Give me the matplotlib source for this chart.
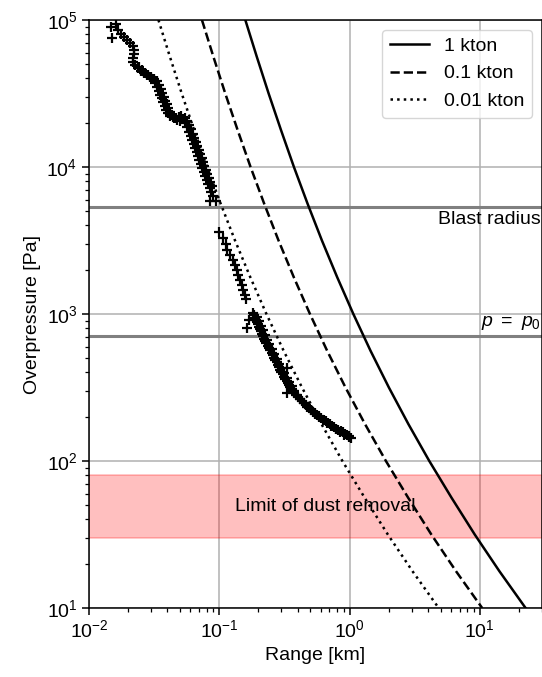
import numpy as np
import matplotlib
matplotlib.use("Agg")
import matplotlib.pyplot as plt

plt.rcParams['font.family'] = ['Liberation Sans', 'DejaVu Sans']
plt.rcParams['mathtext.fontset'] = 'custom'
plt.rcParams['mathtext.rm'] = 'Liberation Sans'
plt.rcParams['mathtext.it'] = 'Liberation Sans:italic'
plt.rcParams['mathtext.bf'] = 'Liberation Sans:bold'
plt.rcParams['font.size'] = 14

# ---------------- data ----------------
curve_pressure_pa = [1e5, 5.62e4, 3.16e4, 1.78e4, 1e4, 5.62e3, 3.16e3, 1.78e3,
                     1e3, 562, 316, 178, 100, 56.2, 31.6, 17.8, 10]
range_1kton_km = [0.1585, 0.1941, 0.2393, 0.2979, 0.3741, 0.4764, 0.6138, 0.8035,
                  1.0691, 1.4488, 2.0045, 2.8314, 4.0926, 6.0674, 9.141, 14.125, 22.44]
range_01kton_km = [0.07362, 0.09016, 0.1112, 0.1384, 0.1738, 0.2213, 0.2851, 0.3732,
                   0.4966, 0.6730, 0.9311, 1.3152, 1.9010, 2.8183, 4.246, 6.561, 10.42]
range_001kton_km = [0.03412, 0.04179, 0.05152, 0.06413, 0.08054, 0.10256, 0.13214, 0.17298,
                    0.23016, 0.31190, 0.43154, 0.60955, 0.88107, 1.3062, 1.9679, 3.0409, 4.831]
curve_labels = ['1 kton', '0.1 kton', '0.01 kton']

# observed overpressure (log10 range [km], log10 pressure [Pa])
obs_seg1 = [(-1.831, 4.952), (-1.792, 4.973), (-1.823, 4.878), (-1.777, 4.932), (-1.754, 4.905),
            (-1.731, 4.884), (-1.708, 4.864), (-1.685, 4.844), (-1.662, 4.823), (-1.654, 4.796),
            (-1.654, 4.769), (-1.662, 4.741), (-1.662, 4.714), (-1.646, 4.694), (-1.623, 4.673),
            (-1.600, 4.653), (-1.577, 4.639), (-1.554, 4.626), (-1.531, 4.612), (-1.508, 4.599),
            (-1.492, 4.571), (-1.477, 4.544), (-1.465, 4.517), (-1.454, 4.490), (-1.442, 4.466),
            (-1.431, 4.442), (-1.419, 4.415), (-1.408, 4.388), (-1.392, 4.367), (-1.377, 4.350),
            (-1.354, 4.337), (-1.331, 4.330), (-1.308, 4.340), (-1.292, 4.347), (-1.277, 4.327),
            (-1.262, 4.299), (-1.246, 4.272), (-1.231, 4.241), (-1.219, 4.211), (-1.208, 4.184),
            (-1.196, 4.156), (-1.185, 4.129), (-1.173, 4.102), (-1.162, 4.075), (-1.154, 4.048),
            (-1.142, 4.020), (-1.131, 3.993), (-1.119, 3.966), (-1.108, 3.939), (-1.096, 3.912),
            (-1.085, 3.884), (-1.073, 3.857), (-1.062, 3.830), (-1.046, 3.803), (-1.069, 3.769),
            (-1.023, 3.769)]
obs_seg1_edge = [(-1.619, 4.678), (-1.596, 4.657), (-1.573, 4.637), (-1.550, 4.623), (-1.527, 4.610),
                 (-1.504, 4.596), (-1.481, 4.583), (-1.465, 4.555), (-1.450, 4.528), (-1.438, 4.501),
                 (-1.427, 4.474), (-1.415, 4.450), (-1.404, 4.426), (-1.392, 4.399), (-1.381, 4.372),
                 (-1.365, 4.351), (-1.350, 4.334), (-1.327, 4.321), (-1.304, 4.314), (-1.281, 4.324),
                 (-1.265, 4.331), (-1.250, 4.311), (-1.235, 4.283), (-1.219, 4.256), (-1.204, 4.225),
                 (-1.192, 4.195), (-1.181, 4.168), (-1.169, 4.140), (-1.158, 4.113), (-1.146, 4.086),
                 (-1.135, 4.059), (-1.127, 4.032), (-1.115, 4.004), (-1.104, 3.977), (-1.092, 3.950),
                 (-1.081, 3.923), (-1.069, 3.896), (-1.058, 3.868)]
obs_seg2 = [(-1.005, 3.560), (-0.973, 3.517), (-0.946, 3.476), (-0.938, 3.435), (-0.915, 3.401),
            (-0.892, 3.367), (-0.877, 3.333), (-0.865, 3.299), (-0.854, 3.265), (-0.838, 3.231),
            (-0.827, 3.197), (-0.815, 3.163), (-0.800, 3.129), (-0.792, 3.105)]
obs_seg3 = [(-0.775, 2.959), (-0.787, 2.903), (-0.479, 2.631), (-0.479, 2.461),
            (-0.741, 3.005), (-0.734, 2.990), (-0.727, 2.975), (-0.719, 2.959), (-0.712, 2.944),
            (-0.705, 2.929), (-0.698, 2.914), (-0.689, 2.898), (-0.681, 2.882), (-0.672, 2.866),
            (-0.664, 2.849), (-0.655, 2.833), (-0.647, 2.817), (-0.638, 2.801), (-0.628, 2.785),
            (-0.618, 2.768), (-0.608, 2.752), (-0.599, 2.736), (-0.589, 2.720), (-0.579, 2.703),
            (-0.569, 2.687), (-0.560, 2.671), (-0.551, 2.654), (-0.542, 2.638), (-0.532, 2.622),
            (-0.523, 2.606), (-0.514, 2.589), (-0.505, 2.573), (-0.495, 2.559), (-0.484, 2.545),
            (-0.474, 2.531), (-0.464, 2.517), (-0.454, 2.503), (-0.443, 2.489), (-0.433, 2.475),
            (-0.423, 2.461), (-0.409, 2.448), (-0.395, 2.434), (-0.380, 2.421), (-0.366, 2.408),
            (-0.352, 2.394), (-0.338, 2.381), (-0.323, 2.370), (-0.308, 2.358), (-0.293, 2.347),
            (-0.278, 2.336), (-0.263, 2.324), (-0.248, 2.313), (-0.232, 2.303), (-0.216, 2.292),
            (-0.200, 2.282), (-0.184, 2.271), (-0.169, 2.261), (-0.153, 2.250), (-0.137, 2.240),
            (-0.121, 2.229), (-0.104, 2.220), (-0.087, 2.212), (-0.069, 2.203), (-0.052, 2.194),
            (-0.035, 2.186), (-0.018, 2.177), (-0.005, 2.167), (0.008, 2.156)]
obs_seg3_edge = [(-0.711, 2.981), (-0.697, 2.951), (-0.682, 2.920), (-0.668, 2.890), (-0.651, 2.858),
                 (-0.634, 2.825), (-0.617, 2.793), (-0.598, 2.761), (-0.578, 2.728), (-0.559, 2.696),
                 (-0.539, 2.663), (-0.521, 2.630), (-0.502, 2.598), (-0.484, 2.565), (-0.465, 2.535),
                 (-0.444, 2.507), (-0.424, 2.479), (-0.403, 2.451), (-0.379, 2.424), (-0.350, 2.397),
                 (-0.322, 2.370), (-0.293, 2.346), (-0.263, 2.323), (-0.233, 2.300), (-0.202, 2.279),
                 (-0.170, 2.258), (-0.139, 2.237), (-0.107, 2.216), (-0.074, 2.196), (-0.039, 2.179),
                 (-0.005, 2.162)]

blast_radius_pa = 5370
ambient_pa = 708
dust_limit_pa = (30, 80)

# ---------------- plot ----------------
fig = plt.figure(figsize=(5.42, 6.77), dpi=100)
ax = fig.add_axes([89 / 542, 69 / 677, 453 / 542, 588 / 677])
ax.set_xscale('log')
ax.set_yscale('log')

ax.grid(True, which='major', color='#b0b0b0', lw=1.1)
ax.set_axisbelow(True)

ax.axhspan(dust_limit_pa[0], dust_limit_pa[1], color='red', alpha=0.25, lw=1.2)
ax.axhline(blast_radius_pa, color='gray', lw=2.2)
ax.axhline(ambient_pa, color='gray', lw=2.2)

obs = np.array(obs_seg1 + obs_seg1_edge + obs_seg2 + obs_seg3 + obs_seg3_edge)
ax.plot(10 ** obs[:, 0], 10 ** obs[:, 1], '+', color='black', ms=7.5, mew=1.6)

ax.plot(range_1kton_km, curve_pressure_pa, '-', color='black', lw=1.8, label=curve_labels[0])
ax.plot(range_01kton_km, curve_pressure_pa, '--', color='black', lw=1.8, label=curve_labels[1])
ax.plot(range_001kton_km, curve_pressure_pa, ':', color='black', lw=1.8, label=curve_labels[2])

ax.text(29.5, 5000, 'Blast radius', ha='right', va='top')
ax.text(29.5, 760, r'$p\ =\ p_0$', ha='right', va='bottom')
ax.text(0.65, 49, 'Limit of dust removal', ha='center', va='center')

ax.set_xlim(1e-2, 3e1)
ax.set_ylim(1e1, 1e5)
ax.set_xlabel('Range [km]')
ax.set_ylabel('Overpressure [Pa]')
ax.tick_params(which='major', length=4.8, width=1.1)
ax.tick_params(which='minor', length=2.8, width=0.9)
for s in ax.spines.values():
    s.set_linewidth(1.1)

ax.legend(loc='upper right')

fig.savefig('out.png', dpi=100)
